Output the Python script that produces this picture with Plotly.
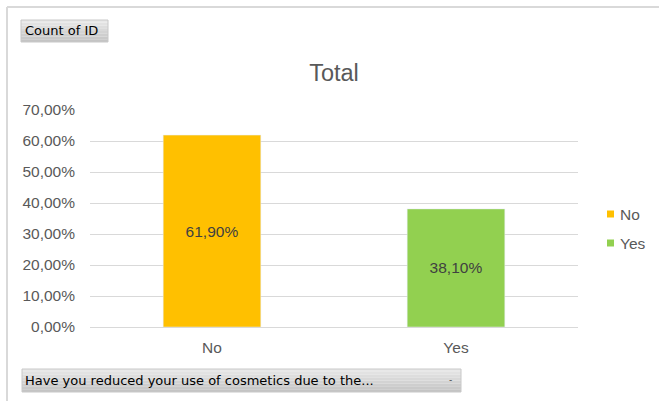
import plotly.graph_objects as go

# Survey answers and their share of responses
categories = ["No", "Yes"]
shares = [0.619, 0.381]
colors = ["#FFC000", "#92D050"]
y_ticks = [0.0, 0.1, 0.2, 0.3, 0.4, 0.5, 0.6, 0.7]

W, H = 659, 401
L, R, T, B = 90, 81, 110, 74
PW, PH = W - L - R, H - T - B
FONT = "Liberation Sans, Arial"
FS = 15.5


def px_x(px):
    return (px - L) / PW


def px_y(py):
    return (H - B - py) / PH


def pct_label(v):
    return f"{v * 100:.2f}%".replace(".", ",")


fig = go.Figure()
for cat, val, col in zip(categories, shares, colors):
    fig.add_trace(go.Bar(
        x=[cat], y=[val], name=cat, marker_color=col, width=0.4,
        text=[pct_label(val)], textposition="inside", insidetextanchor="middle",
        textfont=dict(family=FONT, size=FS, color="#404040"),
        showlegend=False, hoverinfo="skip",
    ))

shapes = []
# outer frame lines
shapes.append(dict(type="line", xref="paper", yref="paper",
                   x0=px_x(7), x1=px_x(660), y0=px_y(7), y1=px_y(7),
                   line=dict(color="#d9d9d9", width=2)))
shapes.append(dict(type="line", xref="paper", yref="paper",
                   x0=px_x(7), x1=px_x(7), y0=px_y(7), y1=px_y(402),
                   line=dict(color="#d9d9d9", width=2)))


def button(x0, y0, x1, y1):
    # grey field button with a soft vertical gradient
    steps = 8
    top, bot = (232, 232, 232), (196, 196, 196)
    h = (y1 - y0) / steps
    for i in range(steps):
        t = i / (steps - 1)
        c = tuple(int(top[k] + (bot[k] - top[k]) * t) for k in range(3))
        shapes.append(dict(type="rect", xref="paper", yref="paper",
                           x0=px_x(x0), x1=px_x(x1),
                           y0=px_y(y0 + i * h), y1=px_y(y0 + (i + 1) * h),
                           fillcolor=f"rgb{c}", line=dict(width=0), layer="above"))
    shapes.append(dict(type="rect", xref="paper", yref="paper",
                       x0=px_x(x0), x1=px_x(x1), y0=px_y(y0), y1=px_y(y1),
                       fillcolor="rgba(0,0,0,0)", line=dict(color="#c8c8c8", width=1),
                       layer="above"))


button(21, 20, 108, 42)
button(22, 369, 461, 392)

annotations = [
    dict(text="Count of ID", xref="paper", yref="paper", x=px_x(23), y=px_y(31),
         xanchor="left", yanchor="middle", showarrow=False,
         font=dict(family="DejaVu Sans", size=13, color="#000000")),
    dict(text="Have you reduced your use of cosmetics due to the...", xref="paper", yref="paper",
         x=px_x(23), y=px_y(380.5), xanchor="left", yanchor="middle", showarrow=False,
         font=dict(family="DejaVu Sans", size=13, color="#000000")),
    dict(text="-", xref="paper", yref="paper", x=px_x(450), y=px_y(380),
         xanchor="center", yanchor="middle", showarrow=False,
         font=dict(family="DejaVu Sans", size=9, color="#404040")),
]

# legend entries: small coloured square followed by the category name
legend_rows_y = [214, 243]
for cat, col, ly in zip(categories, colors, legend_rows_y):
    shapes.append(dict(type="rect", xref="paper", yref="paper",
                       x0=px_x(607), x1=px_x(614), y0=px_y(ly - 3.5), y1=px_y(ly + 3.5),
                       fillcolor=col, line=dict(width=0)))
    annotations.append(dict(text=cat, xref="paper", yref="paper", x=px_x(618), y=px_y(ly),
                            xanchor="left", yanchor="middle", showarrow=False,
                            font=dict(family=FONT, size=FS, color="#595959")))

fig.update_layout(
    width=W, height=H,
    margin=dict(l=L, r=R, t=T, b=B, autoexpand=False),
    paper_bgcolor="white", plot_bgcolor="white",
    separators=", ",
    barmode="overlay",
    title=dict(text="Total", x=(L + PW / 2) / W, xanchor="center",
               y=1 - 73 / H, yanchor="middle",
               font=dict(family=FONT, size=23.5, color="#595959")),
    showlegend=False,
    shapes=shapes,
    annotations=annotations,
    font=dict(family=FONT),
)
fig.update_yaxes(range=[0, 0.7], tickvals=y_ticks, tickformat=".2%",
                 showgrid=True, gridcolor="#d9d9d9", gridwidth=1,
                 zeroline=False, showline=False, ticks="",
                 ticklabelstandoff=14,
                 tickfont=dict(family=FONT, size=FS, color="#595959"))
fig.update_xaxes(showline=True, linecolor="#d9d9d9", ticks="",
                 ticklabelstandoff=6,
                 tickfont=dict(family=FONT, size=FS, color="#595959"))

fig.write_html("out.html")
